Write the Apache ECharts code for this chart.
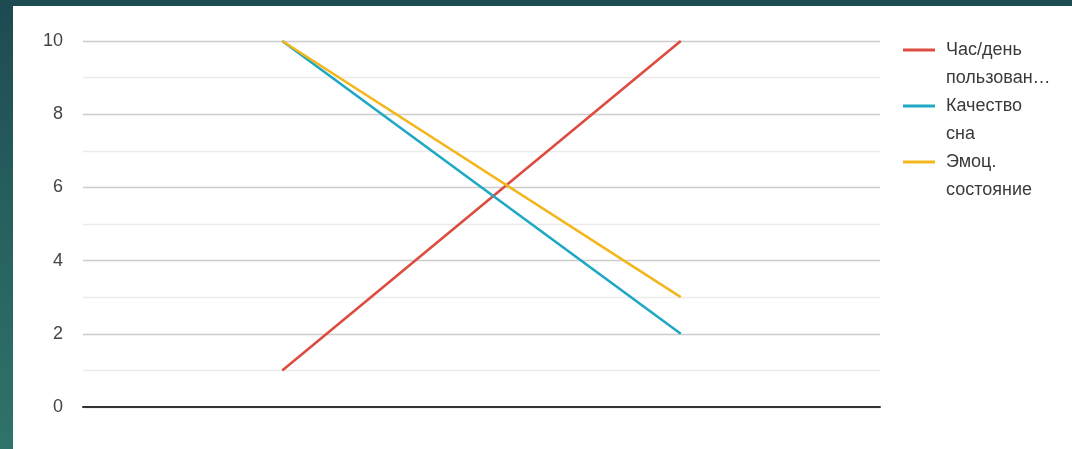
<!DOCTYPE html>
<html>
<head>
<meta charset="utf-8">
<script src="https://cdn.jsdelivr.net/npm/echarts@6/dist/echarts.min.js"></script>
<style>
html,body{margin:0;padding:0;width:1072px;height:449px;overflow:hidden;}
body{background:linear-gradient(180deg,#1e4a52 0%,#27615f 50%,#2f736a 100%);position:relative;}
#chart{position:absolute;left:13px;top:6px;width:1059px;height:443px;background:#fff;}
</style>
</head>
<body>
<div id="chart"></div>
<script>
// Data
var categories = ['Период 1', 'Период 2'];
var seriesNames = ['Час/день пользования', 'Качество сна', 'Эмоц. состояние'];
var legendLabels = ['Час/день\nпользован…', 'Качество\nсна', 'Эмоц.\nсостояние'];
var hoursPerDay = [1, 10];
var sleepQuality = [10, 2];
var emotionalState = [10, 3];
var yTicks = [0, 2, 4, 6, 8, 10];

var colors = ['#dc4c41', '#1fa8c4', '#f2b71c'];
var chart = echarts.init(document.getElementById('chart'));
chart.setOption({
  animation: false,
  color: colors,
  textStyle: { fontFamily: 'Liberation Sans, Arial, sans-serif' },
  grid: { left: 70, right: 192, top: 35, bottom: 42, containLabel: false },
  legend: {
    orient: 'vertical',
    left: 890,
    top: 2,
    padding: 0,
    itemGap: -28,
    itemWidth: 32,
    itemHeight: 3,
    icon: 'rect',
    data: seriesNames,
    formatter: function (name) {
      return '\n' + legendLabels[seriesNames.indexOf(name)];
    },
    textStyle: { fontSize: 18, lineHeight: 28, color: '#3a3a3a', fontFamily: 'Liberation Sans, Arial, sans-serif', padding: [0, 0, 0, 6] }
  },
  xAxis: {
    type: 'category',
    data: categories,
    boundaryGap: true,
    axisLine: { show: true, onZero: true, lineStyle: { color: '#333', width: 2 } },
    axisTick: { show: false },
    axisLabel: { show: false },
    splitLine: { show: false }
  },
  yAxis: {
    type: 'value',
    min: yTicks[0],
    max: yTicks[yTicks.length - 1],
    interval: 2,
    axisLine: { show: false },
    axisTick: { show: false },
    axisLabel: { fontSize: 18, color: '#444', margin: 20, fontFamily: 'Liberation Sans, Arial, sans-serif' },
    splitLine: { lineStyle: { color: '#cccccc', width: 1.3 } },
    minorTick: { show: false, splitNumber: 2 },
    minorSplitLine: { show: true, lineStyle: { color: '#ebebeb', width: 1.3 } }
  },
  series: [
    { name: seriesNames[0], type: 'line', data: hoursPerDay, symbol: 'none', lineStyle: { width: 2.6 } },
    { name: seriesNames[1], type: 'line', data: sleepQuality, symbol: 'none', lineStyle: { width: 2.6 } },
    { name: seriesNames[2], type: 'line', data: emotionalState, symbol: 'none', lineStyle: { width: 2.6 } }
  ]
});
</script>
</body>
</html>
